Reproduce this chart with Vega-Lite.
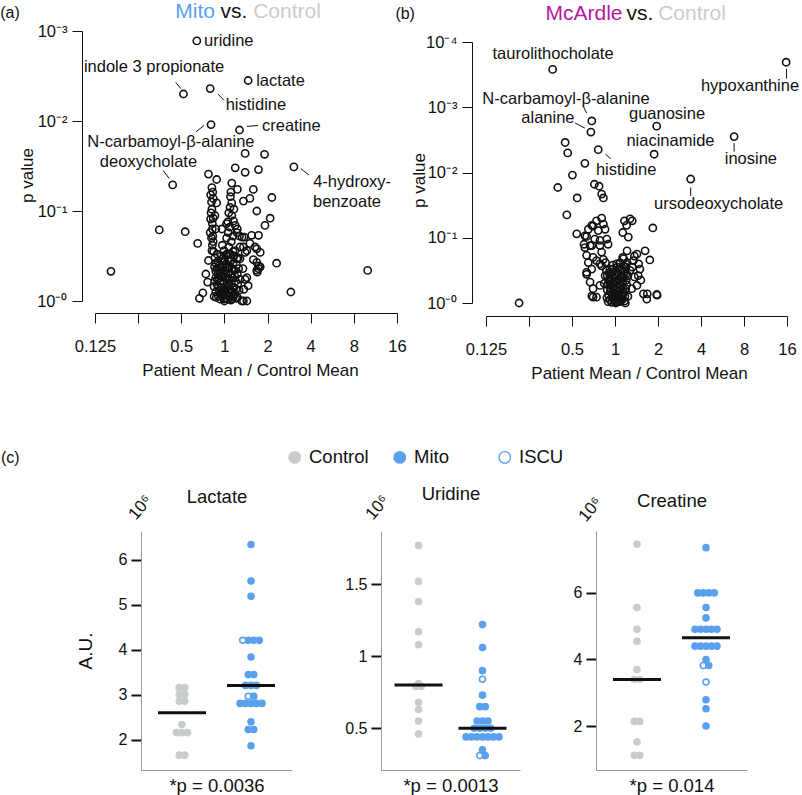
{
"$schema":"https://vega.github.io/schema/vega-lite/v6.json",
"background":"white",
"padding":{"left":0,"top":1,"right":5,"bottom":5},
"config":{
 "font":"Liberation Sans",
 "view":{"stroke":null},
 "axis":{"grid":false,"labelFlush":false,"labelFont":"Liberation Sans","titleFont":"Liberation Sans","titleFontWeight":"normal","labelColor":"#111111","titleColor":"#111111","domainColor":"#111111","tickColor":"#111111"},
 "axisX":{"labelFlush":false},
 "title":{"font":"Liberation Sans","fontWeight":"normal","color":"#111111"},
 "legend":{"orient":"none","legendX":190.5,"legendY":417,"direction":"horizontal","symbolType":"circle","symbolSize":130,"symbolStrokeWidth":1.4,"labelFontSize":18.5,"labelFont":"Liberation Sans","labelColor":"#111111","gridAlign":"all","columnPadding":21,"labelOffset":5,"padding":0}
},
"datasets":{
 "volcanoA":[
  {"log2FC":-0.64,"nlogP":2.89},{"log2FC":-0.95,"nlogP":2.30},{"log2FC":-0.33,"nlogP":2.36},{"log2FC":0.55,"nlogP":2.45},{"log2FC":-0.31,"nlogP":1.96},{"log2FC":0.35,"nlogP":1.90},{"log2FC":-1.20,"nlogP":1.29},{"log2FC":1.61,"nlogP":1.49},
  {"log2FC":0.48,"nlogP":1.64},{"log2FC":0.93,"nlogP":1.63},{"log2FC":0.25,"nlogP":1.48},{"log2FC":0.48,"nlogP":1.43},{"log2FC":0.79,"nlogP":1.46},{"log2FC":-0.37,"nlogP":1.41},{"log2FC":-0.18,"nlogP":1.35},{"log2FC":0.17,"nlogP":1.31},{"log2FC":0.30,"nlogP":1.24},{"log2FC":0.15,"nlogP":1.21},{"log2FC":0.67,"nlogP":1.24},{"log2FC":0.59,"nlogP":1.14},{"log2FC":0.44,"nlogP":1.11},{"log2FC":1.10,"nlogP":1.15},
  {"log2FC":-0.29,"nlogP":1.26},{"log2FC":-0.27,"nlogP":1.21},{"log2FC":-0.26,"nlogP":1.14},{"log2FC":-0.18,"nlogP":1.09},{"log2FC":-0.29,"nlogP":1.02},{"log2FC":-0.26,"nlogP":0.92},{"log2FC":-0.32,"nlogP":0.91},
  {"log2FC":0.17,"nlogP":1.09},{"log2FC":0.13,"nlogP":1.04},{"log2FC":0.17,"nlogP":0.95},{"log2FC":0.21,"nlogP":0.89},{"log2FC":0.25,"nlogP":0.84},{"log2FC":0.30,"nlogP":0.80},
  {"log2FC":0.75,"nlogP":1.00},{"log2FC":1.06,"nlogP":0.92},{"log2FC":0.94,"nlogP":0.84},
  {"log2FC":-1.51,"nlogP":0.79},{"log2FC":-0.91,"nlogP":0.77},{"log2FC":-0.62,"nlogP":0.64},
  {"log2FC":0.63,"nlogP":0.73},{"log2FC":0.79,"nlogP":0.73},{"log2FC":0.59,"nlogP":0.64},{"log2FC":0.75,"nlogP":0.58},{"log2FC":0.67,"nlogP":0.46},{"log2FC":0.79,"nlogP":0.39},{"log2FC":0.76,"nlogP":0.32},{"log2FC":0.83,"nlogP":0.38},{"log2FC":1.21,"nlogP":0.42},{"log2FC":1.54,"nlogP":0.10},
  {"log2FC":-0.58,"nlogP":0.03},{"log2FC":-0.50,"nlogP":0.09},{"log2FC":-2.63,"nlogP":0.33},{"log2FC":3.32,"nlogP":0.34},
  {"log2FC":-0.37,"nlogP":0.45},{"log2FC":-0.43,"nlogP":0.30},{"log2FC":-0.39,"nlogP":0.21},
  {"log2FC":0.44,"nlogP":0.00},{"log2FC":0.52,"nlogP":0.00},{"log2FC":0.45,"nlogP":0.13},{"log2FC":0.48,"nlogP":0.24},{"log2FC":0.43,"nlogP":0.36},{"log2FC":0.36,"nlogP":0.47},{"log2FC":0.52,"nlogP":0.56},{"log2FC":0.36,"nlogP":0.60},{"log2FC":0.41,"nlogP":0.71},
  {"log2FC":-0.28,"nlogP":0.80},{"log2FC":-0.06,"nlogP":0.80},{"log2FC":0.09,"nlogP":0.76},{"log2FC":0.29,"nlogP":0.76},{"log2FC":0.35,"nlogP":0.72},{"log2FC":0.46,"nlogP":0.71},{"log2FC":0.44,"nlogP":0.60},{"log2FC":0.48,"nlogP":0.54},{"log2FC":0.71,"nlogP":0.60},{"log2FC":0.83,"nlogP":0.54},{"log2FC":0.75,"nlogP":0.43},{"log2FC":0.79,"nlogP":0.36},{"log2FC":0.75,"nlogP":0.34},{"log2FC":0.52,"nlogP":0.26},{"log2FC":0.55,"nlogP":0.17},{"log2FC":0.36,"nlogP":0.24},{"log2FC":-0.29,"nlogP":0.56},{"log2FC":0.40,"nlogP":0.00},
  {"log2FC":-0.25,"nlogP":0.55},{"log2FC":-0.22,"nlogP":0.48},{"log2FC":-0.20,"nlogP":0.42},{"log2FC":-0.18,"nlogP":0.36},{"log2FC":-0.15,"nlogP":0.30},{"log2FC":-0.12,"nlogP":0.25},{"log2FC":-0.10,"nlogP":0.20},{"log2FC":-0.08,"nlogP":0.15},{"log2FC":-0.06,"nlogP":0.10},{"log2FC":-0.04,"nlogP":0.05},{"log2FC":-0.02,"nlogP":0.02},{"log2FC":0.00,"nlogP":0.00},{"log2FC":0.02,"nlogP":0.03},{"log2FC":0.05,"nlogP":0.08},{"log2FC":0.08,"nlogP":0.12},{"log2FC":0.10,"nlogP":0.18},{"log2FC":0.12,"nlogP":0.24},{"log2FC":0.15,"nlogP":0.30},{"log2FC":0.18,"nlogP":0.36},{"log2FC":0.20,"nlogP":0.42},{"log2FC":0.22,"nlogP":0.50},{"log2FC":0.25,"nlogP":0.56},{"log2FC":-0.28,"nlogP":0.62},{"log2FC":-0.30,"nlogP":0.70},{"log2FC":-0.26,"nlogP":0.66},{"log2FC":0.10,"nlogP":0.60},{"log2FC":0.05,"nlogP":0.52},{"log2FC":0.00,"nlogP":0.45},{"log2FC":-0.05,"nlogP":0.38},{"log2FC":-0.10,"nlogP":0.32},{"log2FC":0.03,"nlogP":0.30},{"log2FC":0.07,"nlogP":0.25},{"log2FC":-0.02,"nlogP":0.20},{"log2FC":-0.12,"nlogP":0.12},{"log2FC":-0.17,"nlogP":0.18},{"log2FC":-0.20,"nlogP":0.26},{"log2FC":0.12,"nlogP":0.05},{"log2FC":0.18,"nlogP":0.10},{"log2FC":0.22,"nlogP":0.15},{"log2FC":0.26,"nlogP":0.22},{"log2FC":0.30,"nlogP":0.30},{"log2FC":0.28,"nlogP":0.40},{"log2FC":0.32,"nlogP":0.48},{"log2FC":0.34,"nlogP":0.12},{"log2FC":0.30,"nlogP":0.04},{"log2FC":-0.10,"nlogP":0.02},{"log2FC":-0.15,"nlogP":0.06},{"log2FC":-0.20,"nlogP":0.10},{"log2FC":-0.24,"nlogP":0.16},{"log2FC":0.00,"nlogP":0.10},{"log2FC":0.04,"nlogP":0.16},{"log2FC":0.06,"nlogP":0.38},{"log2FC":0.10,"nlogP":0.46},{"log2FC":0.14,"nlogP":0.52},{"log2FC":0.16,"nlogP":0.66},{"log2FC":0.20,"nlogP":0.72},{"log2FC":0.05,"nlogP":0.70},{"log2FC":-0.05,"nlogP":0.62},{"log2FC":-0.08,"nlogP":0.50},{"log2FC":0.12,"nlogP":0.38},{"log2FC":-0.15,"nlogP":0.44},{"log2FC":0.08,"nlogP":0.02},{"log2FC":0.15,"nlogP":0.01},{"log2FC":0.20,"nlogP":0.04},{"log2FC":-0.05,"nlogP":0.28},{"log2FC":0.25,"nlogP":0.08},
  {"log2FC":-0.32,"nlogP":1.18},{"log2FC":-0.30,"nlogP":1.10},{"log2FC":-0.31,"nlogP":0.98},{"log2FC":-0.28,"nlogP":0.86},{"log2FC":-0.33,"nlogP":0.76},{"log2FC":-0.27,"nlogP":0.72},{"log2FC":0.14,"nlogP":1.16},{"log2FC":0.10,"nlogP":0.98},{"log2FC":0.08,"nlogP":0.88},{"log2FC":0.12,"nlogP":0.82},{"log2FC":0.05,"nlogP":0.86},{"log2FC":0.22,"nlogP":1.02},{"log2FC":-0.22,"nlogP":0.95},{"log2FC":-0.20,"nlogP":0.80},
  {"log2FC":-0.24,"nlogP":0.05},{"log2FC":-0.22,"nlogP":0.22},{"log2FC":-0.20,"nlogP":0.33},{"log2FC":-0.17,"nlogP":0.52},{"log2FC":-0.14,"nlogP":0.16},{"log2FC":-0.11,"nlogP":0.40},{"log2FC":-0.09,"nlogP":0.08},{"log2FC":-0.07,"nlogP":0.27},{"log2FC":-0.04,"nlogP":0.47},{"log2FC":-0.01,"nlogP":0.33},{"log2FC":0.01,"nlogP":0.12},{"log2FC":0.03,"nlogP":0.41},{"log2FC":0.06,"nlogP":0.20},{"log2FC":0.09,"nlogP":0.31},{"log2FC":0.11,"nlogP":0.09},{"log2FC":0.13,"nlogP":0.44},{"log2FC":0.16,"nlogP":0.19},{"log2FC":0.19,"nlogP":0.26},{"log2FC":0.21,"nlogP":0.06},{"log2FC":0.23,"nlogP":0.34},{"log2FC":0.27,"nlogP":0.13},{"log2FC":0.29,"nlogP":0.47},{"log2FC":0.31,"nlogP":0.19},{"log2FC":0.33,"nlogP":0.36},{"log2FC":-0.19,"nlogP":0.04},{"log2FC":-0.13,"nlogP":0.35},{"log2FC":-0.03,"nlogP":0.09},{"log2FC":0.04,"nlogP":0.50},{"log2FC":0.17,"nlogP":0.02},{"log2FC":0.24,"nlogP":0.28},{"log2FC":-0.06,"nlogP":0.44},{"log2FC":0.02,"nlogP":0.26},{"log2FC":0.14,"nlogP":0.12},{"log2FC":-0.16,"nlogP":0.24},{"log2FC":0.07,"nlogP":0.36},{"log2FC":0.27,"nlogP":0.03},{"log2FC":-0.23,"nlogP":0.38},{"log2FC":0.10,"nlogP":0.52},{"log2FC":-0.01,"nlogP":0.56},{"log2FC":0.20,"nlogP":0.55}
 ],
 "labelsA":[
  {"label":"uridine","log2FC":0.10,"nlogP":2.89},
  {"label":"indole 3 propionate","log2FC":-1.63,"nlogP":2.60},
  {"label":"histidine","log2FC":0.73,"nlogP":2.18},
  {"label":"lactate","log2FC":1.30,"nlogP":2.44},
  {"label":"N-carbamoyl-β-alanine","log2FC":-1.24,"nlogP":1.77},
  {"label":"creatine","log2FC":1.55,"nlogP":1.94},
  {"label":"deoxycholate","log2FC":-1.76,"nlogP":1.54},
  {"label":"4-hydroxy-","log2FC":2.96,"nlogP":1.32},
  {"label":"benzoate","log2FC":2.84,"nlogP":1.10}
 ],
 "leadersA":[
  {"log2FC":-1.13,"nlogP":2.43,"log2FC2":-1.01,"nlogP2":2.36},
  {"log2FC":-0.15,"nlogP":2.30,"log2FC2":-0.01,"nlogP2":2.23},
  {"log2FC":-0.66,"nlogP":1.88,"log2FC2":-0.47,"nlogP2":1.95},
  {"log2FC":0.52,"nlogP":1.94,"log2FC2":0.78,"nlogP2":1.95},
  {"log2FC":-1.42,"nlogP":1.45,"log2FC2":-1.28,"nlogP2":1.36},
  {"log2FC":1.77,"nlogP":1.47,"log2FC2":1.96,"nlogP2":1.40}
 ],
 "headA":[
  {"word":"Mito","role":"Mito","log2FC":-0.68,"nlogP":3.21},
  {"word":"vs.","role":"vs","log2FC":0.22,"nlogP":3.21},
  {"word":"Control","role":"Control","log2FC":1.45,"nlogP":3.21}
 ],
 "tagA":[{"word":"(a)","log2FC":-4.97,"nlogP":3.20}],
 "volcanoB":[
  {"log2FC":-1.45,"nlogP":3.58},{"log2FC":3.98,"nlogP":3.69},{"log2FC":-0.54,"nlogP":2.79},{"log2FC":-0.56,"nlogP":2.62},{"log2FC":0.97,"nlogP":2.71},{"log2FC":0.91,"nlogP":2.28},{"log2FC":2.77,"nlogP":2.55},{"log2FC":-0.39,"nlogP":2.35},{"log2FC":1.76,"nlogP":1.90},
  {"log2FC":-1.16,"nlogP":2.46},{"log2FC":-1.10,"nlogP":2.30},{"log2FC":-0.70,"nlogP":2.14},{"log2FC":-0.99,"nlogP":1.96},{"log2FC":-1.33,"nlogP":1.77},{"log2FC":-0.88,"nlogP":1.61},{"log2FC":-1.12,"nlogP":1.35},{"log2FC":-0.48,"nlogP":1.82},{"log2FC":-0.37,"nlogP":1.79},{"log2FC":-0.31,"nlogP":1.67},{"log2FC":-0.27,"nlogP":1.61},{"log2FC":0.88,"nlogP":1.15},{"log2FC":-2.23,"nlogP":0.00},{"log2FC":0.75,"nlogP":0.14},{"log2FC":0.98,"nlogP":0.12},
  {"log2FC":0.22,"nlogP":1.26},{"log2FC":0.35,"nlogP":1.29},{"log2FC":0.27,"nlogP":1.19},{"log2FC":0.18,"nlogP":1.08},{"log2FC":0.31,"nlogP":1.01},{"log2FC":0.40,"nlogP":1.26},
  {"log2FC":0.70,"nlogP":0.80},{"log2FC":0.81,"nlogP":0.66},{"log2FC":0.51,"nlogP":0.75},{"log2FC":0.43,"nlogP":0.65},{"log2FC":0.58,"nlogP":0.52},{"log2FC":0.54,"nlogP":0.42},{"log2FC":0.51,"nlogP":0.27},{"log2FC":0.39,"nlogP":0.22},{"log2FC":0.66,"nlogP":0.14},{"log2FC":0.74,"nlogP":0.06},{"log2FC":0.97,"nlogP":0.13},
  {"log2FC":-0.70,"nlogP":1.03},{"log2FC":-0.62,"nlogP":1.13},{"log2FC":-0.54,"nlogP":1.19},{"log2FC":-0.43,"nlogP":1.26},{"log2FC":-0.31,"nlogP":1.30},{"log2FC":-0.27,"nlogP":1.21},{"log2FC":-0.39,"nlogP":1.11},{"log2FC":-0.23,"nlogP":1.13},{"log2FC":-0.19,"nlogP":0.98},{"log2FC":-0.47,"nlogP":0.98},{"log2FC":-0.70,"nlogP":0.85},{"log2FC":-0.58,"nlogP":0.88},{"log2FC":-0.35,"nlogP":0.88},{"log2FC":-0.16,"nlogP":0.90},{"log2FC":-0.51,"nlogP":0.70},{"log2FC":-0.62,"nlogP":0.62},{"log2FC":-0.54,"nlogP":0.52},{"log2FC":-0.43,"nlogP":0.65},{"log2FC":-0.31,"nlogP":0.57},{"log2FC":-0.27,"nlogP":0.67},{"log2FC":-0.66,"nlogP":0.44},{"log2FC":-0.58,"nlogP":0.32},{"log2FC":-0.51,"nlogP":0.22},{"log2FC":-0.54,"nlogP":0.11},{"log2FC":-0.43,"nlogP":0.09},{"log2FC":-0.35,"nlogP":0.27},{"log2FC":-0.23,"nlogP":0.42},{"log2FC":-0.12,"nlogP":0.52},
  {"log2FC":-0.89,"nlogP":1.06},{"log2FC":-0.66,"nlogP":1.02},{"log2FC":-0.51,"nlogP":1.18},{"log2FC":-0.54,"nlogP":0.88},{"log2FC":-0.35,"nlogP":0.96},{"log2FC":-0.66,"nlogP":0.73},{"log2FC":-0.31,"nlogP":0.78},{"log2FC":-0.66,"nlogP":0.47},{"log2FC":-0.51,"nlogP":0.09},{"log2FC":-0.72,"nlogP":0.90},{"log2FC":-0.35,"nlogP":0.60},
  {"log2FC":0.45,"nlogP":0.72},{"log2FC":0.55,"nlogP":0.60},{"log2FC":0.35,"nlogP":0.50},{"log2FC":0.60,"nlogP":0.35},{"log2FC":0.45,"nlogP":0.40},{"log2FC":0.40,"nlogP":0.55},{"log2FC":0.30,"nlogP":0.42},{"log2FC":0.25,"nlogP":0.60},{"log2FC":0.20,"nlogP":0.68},
  {"log2FC":-0.20,"nlogP":0.50},{"log2FC":-0.18,"nlogP":0.42},{"log2FC":-0.15,"nlogP":0.35},{"log2FC":-0.12,"nlogP":0.28},{"log2FC":-0.10,"nlogP":0.22},{"log2FC":-0.08,"nlogP":0.16},{"log2FC":-0.05,"nlogP":0.10},{"log2FC":-0.03,"nlogP":0.05},{"log2FC":0.00,"nlogP":0.02},{"log2FC":0.02,"nlogP":0.00},{"log2FC":0.05,"nlogP":0.04},{"log2FC":0.08,"nlogP":0.08},{"log2FC":0.10,"nlogP":0.14},{"log2FC":0.12,"nlogP":0.20},{"log2FC":0.15,"nlogP":0.26},{"log2FC":0.18,"nlogP":0.32},{"log2FC":0.20,"nlogP":0.40},{"log2FC":0.22,"nlogP":0.48},{"log2FC":0.25,"nlogP":0.55},{"log2FC":0.28,"nlogP":0.62},{"log2FC":0.00,"nlogP":0.40},{"log2FC":0.05,"nlogP":0.30},{"log2FC":-0.05,"nlogP":0.32},{"log2FC":0.10,"nlogP":0.36},{"log2FC":-0.10,"nlogP":0.45},{"log2FC":0.15,"nlogP":0.50},{"log2FC":0.02,"nlogP":0.20},{"log2FC":0.08,"nlogP":0.24},{"log2FC":-0.02,"nlogP":0.15},{"log2FC":-0.15,"nlogP":0.12},{"log2FC":-0.12,"nlogP":0.05},{"log2FC":-0.08,"nlogP":0.01},{"log2FC":0.12,"nlogP":0.02},{"log2FC":0.18,"nlogP":0.06},{"log2FC":0.20,"nlogP":0.15},{"log2FC":0.25,"nlogP":0.22},{"log2FC":0.26,"nlogP":0.35},{"log2FC":-0.18,"nlogP":0.20},{"log2FC":0.05,"nlogP":0.55},{"log2FC":-0.05,"nlogP":0.58},{"log2FC":0.12,"nlogP":0.62},{"log2FC":0.18,"nlogP":0.70},{"log2FC":0.28,"nlogP":0.80},{"log2FC":-0.25,"nlogP":0.30},{"log2FC":-0.22,"nlogP":0.62},{"log2FC":0.22,"nlogP":0.03},{"log2FC":0.30,"nlogP":0.10},
  {"log2FC":-0.19,"nlogP":0.08},{"log2FC":-0.17,"nlogP":0.28},{"log2FC":-0.14,"nlogP":0.46},{"log2FC":-0.11,"nlogP":0.18},{"log2FC":-0.09,"nlogP":0.36},{"log2FC":-0.06,"nlogP":0.52},{"log2FC":-0.04,"nlogP":0.24},{"log2FC":-0.01,"nlogP":0.09},{"log2FC":0.01,"nlogP":0.33},{"log2FC":0.03,"nlogP":0.47},{"log2FC":0.06,"nlogP":0.14},{"log2FC":0.09,"nlogP":0.44},{"log2FC":0.11,"nlogP":0.28},{"log2FC":0.14,"nlogP":0.06},{"log2FC":0.16,"nlogP":0.40},{"log2FC":0.19,"nlogP":0.22},{"log2FC":0.21,"nlogP":0.56},{"log2FC":0.23,"nlogP":0.10},{"log2FC":0.26,"nlogP":0.45},{"log2FC":0.27,"nlogP":0.28},{"log2FC":-0.16,"nlogP":0.02},{"log2FC":-0.07,"nlogP":0.30},{"log2FC":0.04,"nlogP":0.60},{"log2FC":0.13,"nlogP":0.52},{"log2FC":0.24,"nlogP":0.00},{"log2FC":-0.12,"nlogP":0.38},{"log2FC":0.00,"nlogP":0.12},{"log2FC":0.17,"nlogP":0.12},{"log2FC":0.08,"nlogP":0.02},{"log2FC":-0.02,"nlogP":0.44}
 ],
 "labelsB":[
  {"label":"taurolithocholate","log2FC":-1.44,"nlogP":3.82},
  {"label":"hypoxanthine","log2FC":3.14,"nlogP":3.33},
  {"label":"N-carbamoyl-β-alanine","log2FC":-1.14,"nlogP":3.13},
  {"label":"alanine","log2FC":-1.56,"nlogP":2.84},
  {"label":"guanosine","log2FC":1.21,"nlogP":2.90},
  {"label":"niacinamide","log2FC":1.29,"nlogP":2.49},
  {"label":"inosine","log2FC":3.16,"nlogP":2.20},
  {"label":"histidine","log2FC":0.26,"nlogP":2.04},
  {"label":"ursodeoxycholate","log2FC":2.41,"nlogP":1.52}
 ],
 "leadersB":[
  {"log2FC":3.99,"nlogP":3.59,"log2FC2":3.99,"nlogP2":3.44},
  {"log2FC":-0.74,"nlogP":3.02,"log2FC2":-0.66,"nlogP2":2.91},
  {"log2FC":-0.93,"nlogP":2.76,"log2FC2":-0.70,"nlogP2":2.68},
  {"log2FC":2.77,"nlogP":2.45,"log2FC2":2.77,"nlogP2":2.32},
  {"log2FC":-0.22,"nlogP":2.28,"log2FC2":-0.10,"nlogP2":2.21},
  {"log2FC":1.76,"nlogP":1.77,"log2FC2":1.76,"nlogP2":1.64}
 ],
 "headB":[
  {"word":"McArdle","role":"McArdle","log2FC":-0.72,"nlogP":4.43},
  {"word":"vs.","role":"vs","log2FC":0.58,"nlogP":4.43},
  {"word":"Control","role":"Control","log2FC":1.79,"nlogP":4.43}
 ],
 "tagB":[{"word":"(b)","log2FC":-4.88,"nlogP":4.43}],
 "dots":[
  {"metabolite":"Lactate","group":"Control","status":"Control","value":3.16},{"metabolite":"Lactate","group":"Control","status":"Control","value":3.16},{"metabolite":"Lactate","group":"Control","status":"Control","value":3.01},{"metabolite":"Lactate","group":"Control","status":"Control","value":3.01},{"metabolite":"Lactate","group":"Control","status":"Control","value":2.86},{"metabolite":"Lactate","group":"Control","status":"Control","value":2.86},{"metabolite":"Lactate","group":"Control","status":"Control","value":2.34},{"metabolite":"Lactate","group":"Control","status":"Control","value":2.16},{"metabolite":"Lactate","group":"Control","status":"Control","value":2.16},{"metabolite":"Lactate","group":"Control","status":"Control","value":2.16},{"metabolite":"Lactate","group":"Control","status":"Control","value":1.66},{"metabolite":"Lactate","group":"Control","status":"Control","value":1.66},
  {"metabolite":"Lactate","group":"Mito","status":"Mito","value":6.34},{"metabolite":"Lactate","group":"Mito","status":"Mito","value":5.53},{"metabolite":"Lactate","group":"Mito","status":"Mito","value":5.19},{"metabolite":"Lactate","group":"Mito","status":"Mito","value":4.21},{"metabolite":"Lactate","group":"Mito","status":"ISCU","value":4.21},{"metabolite":"Lactate","group":"Mito","status":"Mito","value":4.21},{"metabolite":"Lactate","group":"Mito","status":"Mito","value":4.21},{"metabolite":"Lactate","group":"Mito","status":"Mito","value":3.84},{"metabolite":"Lactate","group":"Mito","status":"Mito","value":3.45},{"metabolite":"Lactate","group":"Mito","status":"Mito","value":3.45},{"metabolite":"Lactate","group":"Mito","status":"Mito","value":3.21},{"metabolite":"Lactate","group":"Mito","status":"Mito","value":3.21},{"metabolite":"Lactate","group":"Mito","status":"Mito","value":3.21},{"metabolite":"Lactate","group":"Mito","status":"ISCU","value":2.97},{"metabolite":"Lactate","group":"Mito","status":"Mito","value":2.97},{"metabolite":"Lactate","group":"Mito","status":"Mito","value":2.81},{"metabolite":"Lactate","group":"Mito","status":"Mito","value":2.81},{"metabolite":"Lactate","group":"Mito","status":"Mito","value":2.81},{"metabolite":"Lactate","group":"Mito","status":"Mito","value":2.81},{"metabolite":"Lactate","group":"Mito","status":"Mito","value":2.81},{"metabolite":"Lactate","group":"Mito","status":"Mito","value":2.40},{"metabolite":"Lactate","group":"Mito","status":"Mito","value":2.23},{"metabolite":"Lactate","group":"Mito","status":"Mito","value":2.23},{"metabolite":"Lactate","group":"Mito","status":"Mito","value":1.87},
  {"metabolite":"Uridine","group":"Control","status":"Control","value":1.77},{"metabolite":"Uridine","group":"Control","status":"Control","value":1.52},{"metabolite":"Uridine","group":"Control","status":"Control","value":1.38},{"metabolite":"Uridine","group":"Control","status":"Control","value":1.17},{"metabolite":"Uridine","group":"Control","status":"Control","value":1.08},{"metabolite":"Uridine","group":"Control","status":"Control","value":0.81},{"metabolite":"Uridine","group":"Control","status":"Control","value":0.79},{"metabolite":"Uridine","group":"Control","status":"Control","value":0.79},{"metabolite":"Uridine","group":"Control","status":"Control","value":0.68},{"metabolite":"Uridine","group":"Control","status":"Control","value":0.63},{"metabolite":"Uridine","group":"Control","status":"Control","value":0.55},{"metabolite":"Uridine","group":"Control","status":"Control","value":0.46},
  {"metabolite":"Uridine","group":"Mito","status":"Mito","value":1.22},{"metabolite":"Uridine","group":"Mito","status":"Mito","value":1.06},{"metabolite":"Uridine","group":"Mito","status":"Mito","value":0.90},{"metabolite":"Uridine","group":"Mito","status":"ISCU","value":0.84},{"metabolite":"Uridine","group":"Mito","status":"Mito","value":0.73},{"metabolite":"Uridine","group":"Mito","status":"Mito","value":0.65},{"metabolite":"Uridine","group":"Mito","status":"Mito","value":0.65},{"metabolite":"Uridine","group":"Mito","status":"Mito","value":0.55},{"metabolite":"Uridine","group":"Mito","status":"Mito","value":0.55},{"metabolite":"Uridine","group":"Mito","status":"Mito","value":0.55},{"metabolite":"Uridine","group":"Mito","status":"Mito","value":0.50},{"metabolite":"Uridine","group":"Mito","status":"Mito","value":0.50},{"metabolite":"Uridine","group":"Mito","status":"Mito","value":0.50},{"metabolite":"Uridine","group":"Mito","status":"Mito","value":0.50},{"metabolite":"Uridine","group":"Mito","status":"Mito","value":0.44},{"metabolite":"Uridine","group":"Mito","status":"Mito","value":0.44},{"metabolite":"Uridine","group":"Mito","status":"Mito","value":0.44},{"metabolite":"Uridine","group":"Mito","status":"Mito","value":0.44},{"metabolite":"Uridine","group":"Mito","status":"Mito","value":0.44},{"metabolite":"Uridine","group":"Mito","status":"Mito","value":0.44},{"metabolite":"Uridine","group":"Mito","status":"Mito","value":0.44},{"metabolite":"Uridine","group":"Mito","status":"Mito","value":0.35},{"metabolite":"Uridine","group":"Mito","status":"ISCU","value":0.31},{"metabolite":"Uridine","group":"Mito","status":"Mito","value":0.31},
  {"metabolite":"Creatine","group":"Control","status":"Control","value":7.46},{"metabolite":"Creatine","group":"Control","status":"Control","value":5.56},{"metabolite":"Creatine","group":"Control","status":"Control","value":4.91},{"metabolite":"Creatine","group":"Control","status":"Control","value":4.55},{"metabolite":"Creatine","group":"Control","status":"Control","value":3.70},{"metabolite":"Creatine","group":"Control","status":"Control","value":3.40},{"metabolite":"Creatine","group":"Control","status":"Control","value":3.40},{"metabolite":"Creatine","group":"Control","status":"Control","value":2.14},{"metabolite":"Creatine","group":"Control","status":"Control","value":2.14},{"metabolite":"Creatine","group":"Control","status":"Control","value":1.52},{"metabolite":"Creatine","group":"Control","status":"Control","value":1.12},{"metabolite":"Creatine","group":"Control","status":"Control","value":1.12},
  {"metabolite":"Creatine","group":"Mito","status":"Mito","value":7.36},{"metabolite":"Creatine","group":"Mito","status":"Mito","value":6.00},{"metabolite":"Creatine","group":"Mito","status":"Mito","value":6.00},{"metabolite":"Creatine","group":"Mito","status":"Mito","value":6.00},{"metabolite":"Creatine","group":"Mito","status":"Mito","value":6.00},{"metabolite":"Creatine","group":"Mito","status":"Mito","value":5.56},{"metabolite":"Creatine","group":"Mito","status":"Mito","value":5.25},{"metabolite":"Creatine","group":"Mito","status":"Mito","value":4.91},{"metabolite":"Creatine","group":"Mito","status":"Mito","value":4.91},{"metabolite":"Creatine","group":"Mito","status":"Mito","value":4.91},{"metabolite":"Creatine","group":"Mito","status":"Mito","value":4.91},{"metabolite":"Creatine","group":"Mito","status":"Mito","value":4.91},{"metabolite":"Creatine","group":"Mito","status":"Mito","value":4.40},{"metabolite":"Creatine","group":"Mito","status":"Mito","value":4.40},{"metabolite":"Creatine","group":"Mito","status":"Mito","value":4.40},{"metabolite":"Creatine","group":"Mito","status":"Mito","value":4.40},{"metabolite":"Creatine","group":"Mito","status":"Mito","value":4.40},{"metabolite":"Creatine","group":"Mito","status":"Mito","value":4.00},{"metabolite":"Creatine","group":"Mito","status":"ISCU","value":3.82},{"metabolite":"Creatine","group":"Mito","status":"Mito","value":3.82},{"metabolite":"Creatine","group":"Mito","status":"ISCU","value":3.32},{"metabolite":"Creatine","group":"Mito","status":"Mito","value":2.79},{"metabolite":"Creatine","group":"Mito","status":"Mito","value":2.52},{"metabolite":"Creatine","group":"Mito","status":"Mito","value":2.00}
 ]
},
"bounds":"flush",
"spacing":500,
"vconcat":[
 {"bounds":"flush","spacing":89,"hconcat":[
  {"width":302,"height":270,"layer":[
   {"data":{"name":"volcanoA"},"mark":{"type":"point","filled":false,"size":52,"strokeWidth":1.6,"color":"#111111","opacity":1},
    "encoding":{
     "x":{"field":"log2FC","type":"quantitative","scale":{"domain":[-3,4],"nice":false,"zero":false},
      "axis":{"values":[-3,-2,-1,0,1,2,3,4],"labelExpr":"datum.value == -2 ? '' : format(pow(2, datum.value), '~g')","offset":12,"tickSize":10,"labelPadding":23,"labelAlign":"center","labelBaseline":"middle","labelFontSize":16.5,"labelFlush":false,"labelOverlap":false,"title":"Patient Mean / Control Mean","titleFontSize":17,"titleX":155,"titleY":57,"titleBaseline":"middle","titleAlign":"center"}},
     "y":{"field":"nlogP","type":"quantitative","scale":{"domain":[0,3],"nice":false,"zero":false},
      "axis":{"values":[0,1,2,3],"labelExpr":"'10⁻' + (datum.value == 0 ? '⁰' : datum.value == 1 ? '¹' : datum.value == 2 ? '²' : datum.value == 3 ? '³' : '⁴')","offset":13,"tickSize":10,"labelPadding":5,"labelFontSize":16.5,"labelOverlap":false,"title":"p value","titleFontSize":17,"titleX":-54.5,"titleY":144,"titleAngle":-90,"titleBaseline":"middle","titleAlign":"center"}}}},
   {"data":{"name":"leadersA"},"mark":{"type":"rule","color":"#111111","strokeWidth":1},
    "encoding":{"x":{"field":"log2FC","type":"quantitative"},"y":{"field":"nlogP","type":"quantitative"},"x2":{"field":"log2FC2"},"y2":{"field":"nlogP2"}}},
   {"data":{"name":"labelsA"},"mark":{"type":"text","fontSize":16.5,"color":"#111111"},
    "encoding":{"x":{"field":"log2FC","type":"quantitative"},"y":{"field":"nlogP","type":"quantitative"},"text":{"field":"label","type":"nominal"}}},
   {"data":{"name":"headA"},"mark":{"type":"text","fontSize":21},
    "encoding":{"x":{"field":"log2FC","type":"quantitative"},"y":{"field":"nlogP","type":"quantitative"},"text":{"field":"word","type":"nominal"},
     "color":{"field":"role","type":"nominal","scale":{"domain":["Mito","McArdle","vs","Control"],"range":["#5aa0ee","#b5179e","#111111","#c8cccb"]},"legend":null}}},
   {"data":{"name":"tagA"},"mark":{"type":"text","fontSize":16,"color":"#111111"},
    "encoding":{"x":{"field":"log2FC","type":"quantitative"},"y":{"field":"nlogP","type":"quantitative"},"text":{"field":"word","type":"nominal"}}}
  ]},
  {"bounds":"flush","spacing":0,"vconcat":[
   {"width":301,"height":11,"data":{"values":[{}]},"mark":{"type":"text","text":""},"encoding":{}},
   {"width":301,"height":261,"layer":[
    {"data":{"name":"volcanoB"},"mark":{"type":"point","filled":false,"size":52,"strokeWidth":1.6,"color":"#111111","opacity":1},
     "encoding":{
      "x":{"field":"log2FC","type":"quantitative","scale":{"domain":[-3,4],"nice":false,"zero":false},
       "axis":{"values":[-3,-2,-1,0,1,2,3,4],"labelExpr":"datum.value == -2 ? '' : format(pow(2, datum.value), '~g')","offset":13,"tickSize":10,"labelPadding":23,"labelAlign":"center","labelBaseline":"middle","labelFontSize":16.5,"labelFlush":false,"labelOverlap":false,"title":"Patient Mean / Control Mean","titleFontSize":17,"titleX":153,"titleY":57,"titleBaseline":"middle","titleAlign":"center"}},
      "y":{"field":"nlogP","type":"quantitative","scale":{"domain":[0,4],"nice":false,"zero":false},
       "axis":{"values":[0,1,2,3,4],"labelExpr":"'10⁻' + (datum.value == 0 ? '⁰' : datum.value == 1 ? '¹' : datum.value == 2 ? '²' : datum.value == 3 ? '³' : '⁴')","offset":14,"tickSize":10,"labelPadding":5,"labelFontSize":16.5,"labelOverlap":false,"title":"p value","titleFontSize":17,"titleX":-53,"titleY":138,"titleAngle":-90,"titleBaseline":"middle","titleAlign":"center"}}}},
    {"data":{"name":"leadersB"},"mark":{"type":"rule","color":"#111111","strokeWidth":1},
     "encoding":{"x":{"field":"log2FC","type":"quantitative"},"y":{"field":"nlogP","type":"quantitative"},"x2":{"field":"log2FC2"},"y2":{"field":"nlogP2"}}},
    {"data":{"name":"labelsB"},"mark":{"type":"text","fontSize":16.5,"color":"#111111"},
     "encoding":{"x":{"field":"log2FC","type":"quantitative"},"y":{"field":"nlogP","type":"quantitative"},"text":{"field":"label","type":"nominal"}}},
    {"data":{"name":"headB"},"mark":{"type":"text","fontSize":21},
     "encoding":{"x":{"field":"log2FC","type":"quantitative"},"y":{"field":"nlogP","type":"quantitative"},"text":{"field":"word","type":"nominal"},
      "color":{"field":"role","type":"nominal","scale":{"domain":["Mito","McArdle","vs","Control"],"range":["#5aa0ee","#b5179e","#111111","#c8cccb"]},"legend":null}}},
    {"data":{"name":"tagB"},"mark":{"type":"text","fontSize":16,"color":"#111111"},
     "encoding":{"x":{"field":"log2FC","type":"quantitative"},"y":{"field":"nlogP","type":"quantitative"},"text":{"field":"word","type":"nominal"}}}
   ]}
  ]}
 ]},
 {"bounds":"flush","spacing":0,
  "title":{"text":"(c)","anchor":"start","frame":"group","dx":-94,"offset":10,"fontSize":16,"baseline":"middle"},
  "hconcat":[
   {"width":46,"height":1,"data":{"values":[{}]},"mark":{"type":"text","text":""},"encoding":{}},
   {"bounds":"flush","spacing":89,"hconcat":[
    {"width":151,"height":239,"data":{"name":"dots"},"transform":[{"filter":"datum.metabolite == 'Lactate'"}],
     "layer":[
      {"transform":[{"window":[{"op":"row_number","as":"rk"}],"groupby":["group","value"],"sort":[{"field":"status"}]},{"joinaggregate":[{"op":"count","as":"cnt"}],"groupby":["group","value"]},{"calculate":"datum.rk - (datum.cnt + 1) / 2","as":"off"}],
       "mark":{"type":"point","size":36,"strokeWidth":1.6,"opacity":1},
       "encoding":{
        "x":{"field":"group","type":"nominal","scale":{"type":"band","domain":["Control","Mito"],"paddingInner":0.5,"paddingOuter":0.344},
         "axis":{"orient":"bottom","domainColor":"#999999","ticks":false,"labels":false,"title":"*p = 0.0036","titleFontSize":18.5,"titleY":15,"titleBaseline":"middle"}},
        "xOffset":{"field":"off","type":"quantitative","scale":{"domain":[-3,3],"range":[0.75,33.75]}},
        "y":{"field":"value","type":"quantitative","scale":{"domain":[1.33,6.64],"nice":false,"zero":false},
         "axis":{"orient":"left","values":[2,3,4,5,6],"domainColor":"#999999","tickColor":"#111111","tickWidth":2,"tickSize":10,"labelFontSize":16,"labelPadding":4,"labelOverlap":false,"title":"A.U.","titleFontSize":19,"titleX":-56,"titleY":119.5,"titleAngle":-90,"titleBaseline":"middle","titleAlign":"center"}},
        "fill":{"field":"status","type":"nominal","scale":{"domain":["Control","Mito","ISCU"],"range":["#c8cccb","#5aa0ee","#ffffff"]},"title":null},
        "stroke":{"field":"status","type":"nominal","scale":{"domain":["Control","Mito","ISCU"],"range":["#c8cccb","#5aa0ee","#5aa0ee"]},"title":null}}},
      {"mark":{"type":"tick","thickness":3,"size":48,"color":"#111111"},
       "encoding":{
        "x":{"field":"group","type":"nominal","axis":{"orient":"top","domain":false,"ticks":false,"labels":false,"title":"Lactate","titleFontSize":18.5,"titleY":-35,"titleBaseline":"middle"}},
        "y":{"aggregate":"median","field":"value","type":"quantitative","axis":{"orient":"right","domain":false,"ticks":false,"labels":false,"title":"10⁶","titleFontSize":17,"titleAngle":-50,"titleX":-152,"titleY":-24,"titleAlign":"center","titleBaseline":"middle"}}}}
     ],
     "resolve":{"axis":{"x":"independent","y":"independent"}}},
    {"bounds":"flush","spacing":76,"hconcat":[
     {"width":139,"height":239,"data":{"name":"dots"},"transform":[{"filter":"datum.metabolite == 'Uridine'"}],
      "layer":[
       {"transform":[{"window":[{"op":"row_number","as":"rk"}],"groupby":["group","value"],"sort":[{"field":"status"}]},{"joinaggregate":[{"op":"count","as":"cnt"}],"groupby":["group","value"]},{"calculate":"datum.rk - (datum.cnt + 1) / 2","as":"off"}],
        "mark":{"type":"point","size":36,"strokeWidth":1.6,"opacity":1},
        "encoding":{
         "x":{"field":"group","type":"nominal","scale":{"type":"band","domain":["Control","Mito"],"paddingInner":0.461,"paddingOuter":0.3165},
          "axis":{"orient":"bottom","domainColor":"#999999","ticks":false,"labels":false,"title":"*p = 0.0013","titleFontSize":18.5,"titleY":15,"titleBaseline":"middle"}},
         "xOffset":{"field":"off","type":"quantitative","scale":{"domain":[-3,3],"range":[0.75,33.75]}},
         "y":{"field":"value","type":"quantitative","scale":{"domain":[0.21,1.87],"nice":false,"zero":false},
          "axis":{"orient":"left","values":[0.5,1,1.5],"format":"~g","domainColor":"#999999","tickColor":"#111111","tickWidth":2,"tickSize":10,"labelFontSize":16,"labelPadding":4,"labelOverlap":false,"title":"10⁶","titleFontSize":17,"titleAngle":-50,"titleX":-4,"titleY":-24,"titleAlign":"center","titleBaseline":"middle"}},
         "fill":{"field":"status","type":"nominal","scale":{"domain":["Control","Mito","ISCU"],"range":["#c8cccb","#5aa0ee","#ffffff"]},"title":null},
         "stroke":{"field":"status","type":"nominal","scale":{"domain":["Control","Mito","ISCU"],"range":["#c8cccb","#5aa0ee","#5aa0ee"]},"title":null}}},
       {"mark":{"type":"tick","thickness":3,"size":48,"color":"#111111"},
        "encoding":{
         "x":{"field":"group","type":"nominal","axis":{"orient":"top","domain":false,"ticks":false,"labels":false,"title":"Uridine","titleFontSize":18.5,"titleY":-38,"titleBaseline":"middle"}},
         "y":{"aggregate":"median","field":"value","type":"quantitative","axis":null}}}
      ],
      "resolve":{"axis":{"x":"independent","y":"independent"}}},
     {"width":151,"height":239,"data":{"name":"dots"},"transform":[{"filter":"datum.metabolite == 'Creatine'"}],
      "layer":[
       {"transform":[{"window":[{"op":"row_number","as":"rk"}],"groupby":["group","value"],"sort":[{"field":"status"}]},{"joinaggregate":[{"op":"count","as":"cnt"}],"groupby":["group","value"]},{"calculate":"datum.rk - (datum.cnt + 1) / 2","as":"off"}],
        "mark":{"type":"point","size":36,"strokeWidth":1.6,"opacity":1},
        "encoding":{
         "x":{"field":"group","type":"nominal","scale":{"type":"band","domain":["Control","Mito"],"paddingInner":0.5,"paddingOuter":0.344},
          "axis":{"orient":"bottom","domainColor":"#999999","ticks":false,"labels":false,"title":"*p = 0.014","titleFontSize":18.5,"titleY":15,"titleBaseline":"middle"}},
         "xOffset":{"field":"off","type":"quantitative","scale":{"domain":[-3,3],"range":[0.75,33.75]}},
         "y":{"field":"value","type":"quantitative","scale":{"domain":[0.68,7.86],"nice":false,"zero":false},
          "axis":{"orient":"left","values":[2,4,6],"format":"~g","domainColor":"#999999","tickColor":"#111111","tickWidth":2,"tickSize":10,"labelFontSize":16,"labelPadding":4,"labelOverlap":false,"title":"10⁶","titleFontSize":17,"titleAngle":-50,"titleX":-6,"titleY":-22,"titleAlign":"center","titleBaseline":"middle"}},
         "fill":{"field":"status","type":"nominal","scale":{"domain":["Control","Mito","ISCU"],"range":["#c8cccb","#5aa0ee","#ffffff"]},"title":null},
         "stroke":{"field":"status","type":"nominal","scale":{"domain":["Control","Mito","ISCU"],"range":["#c8cccb","#5aa0ee","#5aa0ee"]},"title":null}}},
       {"mark":{"type":"tick","thickness":3,"size":48,"color":"#111111"},
        "encoding":{
         "x":{"field":"group","type":"nominal","axis":{"orient":"top","domain":false,"ticks":false,"labels":false,"title":"Creatine","titleFontSize":18.5,"titleY":-31,"titleBaseline":"middle"}},
         "y":{"aggregate":"median","field":"value","type":"quantitative","axis":null}}}
      ],
      "resolve":{"axis":{"x":"independent","y":"independent"}}}
    ]}
   ]}
  ]}
]
}
